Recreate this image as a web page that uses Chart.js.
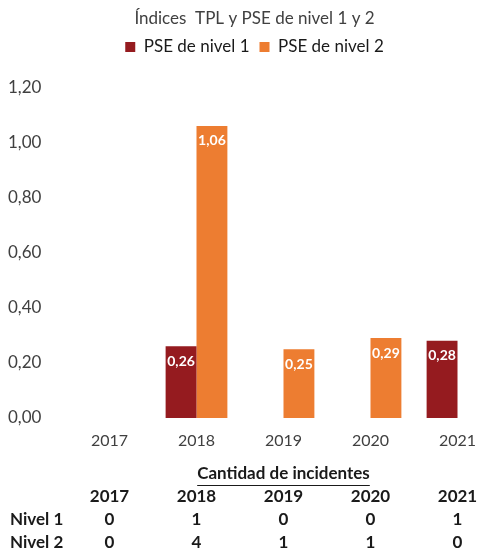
<!DOCTYPE html>
<html>
<head>
<meta charset="utf-8">
<script src="https://cdn.jsdelivr.net/npm/chart.js@4/dist/chart.umd.min.js"></script>
<style>
  html, body { margin: 0; padding: 0; background: #fff; overflow: hidden; }
  #wrap { width: 524px; height: 556px; }
</style>
</head>
<body>
<div id="wrap"><canvas id="chart"></canvas></div>
<script>
// chart data
const years = ['2017', '2018', '2019', '2020', '2021'];
const pseNivel1 = [null, 0.26, null, null, 0.28];
const pseNivel2 = [null, 1.06, 0.25, 0.29, null];

// table under the chart
const tableTitle = 'Cantidad de incidentes';
const rowLabels = ['Nivel 1', 'Nivel 2'];
const countNivel1 = [0, 1, 0, 0, 1];
const countNivel2 = [0, 4, 1, 1, 0];

const fmt = v => v.toFixed(2).replace('.', ',');

// extra room below the legend
const legendGap = {
  id: 'legendGap',
  beforeInit(chart) {
    const fit = chart.legend.fit;
    chart.legend.fit = function () {
      fit.call(this);
      this.height += 22;
    };
  }
};

// white value labels inside the top of each bar
const barLabels = {
  id: 'barLabels',
  afterDatasetsDraw(chart) {
    const ctx = chart.ctx;
    ctx.save();
    ctx.fillStyle = '#fff';
    ctx.font = 'bold 14px Lato';
    ctx.textAlign = 'center';
    ctx.textBaseline = 'middle';
    chart.data.datasets.forEach((ds, i) => {
      chart.getDatasetMeta(i).data.forEach((bar, j) => {
        if (ds.data[j] == null) return;
        ctx.fillText(fmt(ds.data[j]), bar.x, bar.y + 15);
      });
    });
    ctx.restore();
  }
};

// counts table drawn against the x scale
const countsTable = {
  id: 'countsTable',
  afterDraw(chart) {
    const ctx = chart.ctx;
    const x = chart.scales.x;
    const area = chart.chartArea;
    ctx.save();
    ctx.fillStyle = '#1a1a1a';
    ctx.strokeStyle = '#1a1a1a';
    ctx.textBaseline = 'middle';
    ctx.font = 'bold 17px Lato';
    ctx.textAlign = 'center';
    const cx = (area.left + area.right) / 2;
    ctx.fillText(tableTitle, cx, 474);
    const w = ctx.measureText(tableTitle).width;
    ctx.lineWidth = 1;
    ctx.beginPath();
    ctx.moveTo(cx - w / 2, 485.5);
    ctx.lineTo(cx + w / 2, 485.5);
    ctx.stroke();

    ctx.font = 'bold 17px Lato';
    const rows = [years, countNivel1, countNivel2];
    rows.forEach((row, r) => {
      const y = 497 + r * 23;
      ctx.textAlign = 'center';
      row.forEach((v, i) => ctx.fillText(String(v), x.getPixelForValue(i), y));
      if (r > 0) {
        ctx.textAlign = 'left';
        ctx.fillText(rowLabels[r - 1], 10, y);
      }
    });
    ctx.restore();
  }
};

new Chart(document.getElementById('chart'), {
  type: 'bar',
  data: {
    labels: years,
    datasets: [
      { label: 'PSE de nivel 1', data: pseNivel1, backgroundColor: '#951b1f' },
      { label: 'PSE de nivel 2', data: pseNivel2, backgroundColor: '#ed7d31' }
    ]
  },
  options: {
    responsive: true,
    maintainAspectRatio: false,
    animation: false,
    layout: { padding: { left: 8, right: 23, top: 8, bottom: 104 } },
    datasets: { bar: { categoryPercentage: 0.71, barPercentage: 1 } },
    plugins: {
      title: {
        display: true,
        text: 'Índices  TPL y PSE de nivel 1 y 2',
        color: '#404040',
        font: { family: 'Lato', size: 17, weight: 'normal' },
        padding: { top: 0, bottom: 0 }
      },
      legend: {
        labels: {
          boxWidth: 10,
          boxHeight: 10,
          color: '#1a1a1a',
          font: { family: 'Lato', size: 17 },
          padding: 10
        }
      },
      tooltip: { enabled: false }
    },
    scales: {
      x: {
        grid: { display: false, drawTicks: false },
        border: { display: false },
        ticks: { color: '#404040', font: { family: 'Lato', size: 16 }, padding: 13 },
        afterFit: s => { s.height = 34; }
      },
      y: {
        min: 0,
        max: 1.2,
        grid: { display: false, drawTicks: false },
        border: { display: false },
        ticks: {
          stepSize: 0.2,
          crossAlign: 'far',
          color: '#404040',
          font: { family: 'Lato', size: 17 },
          callback: v => fmt(v)
        },
        afterFit: s => { s.width = 58; }
      }
    }
  },
  plugins: [legendGap, barLabels, countsTable]
});
</script>
</body>
</html>
